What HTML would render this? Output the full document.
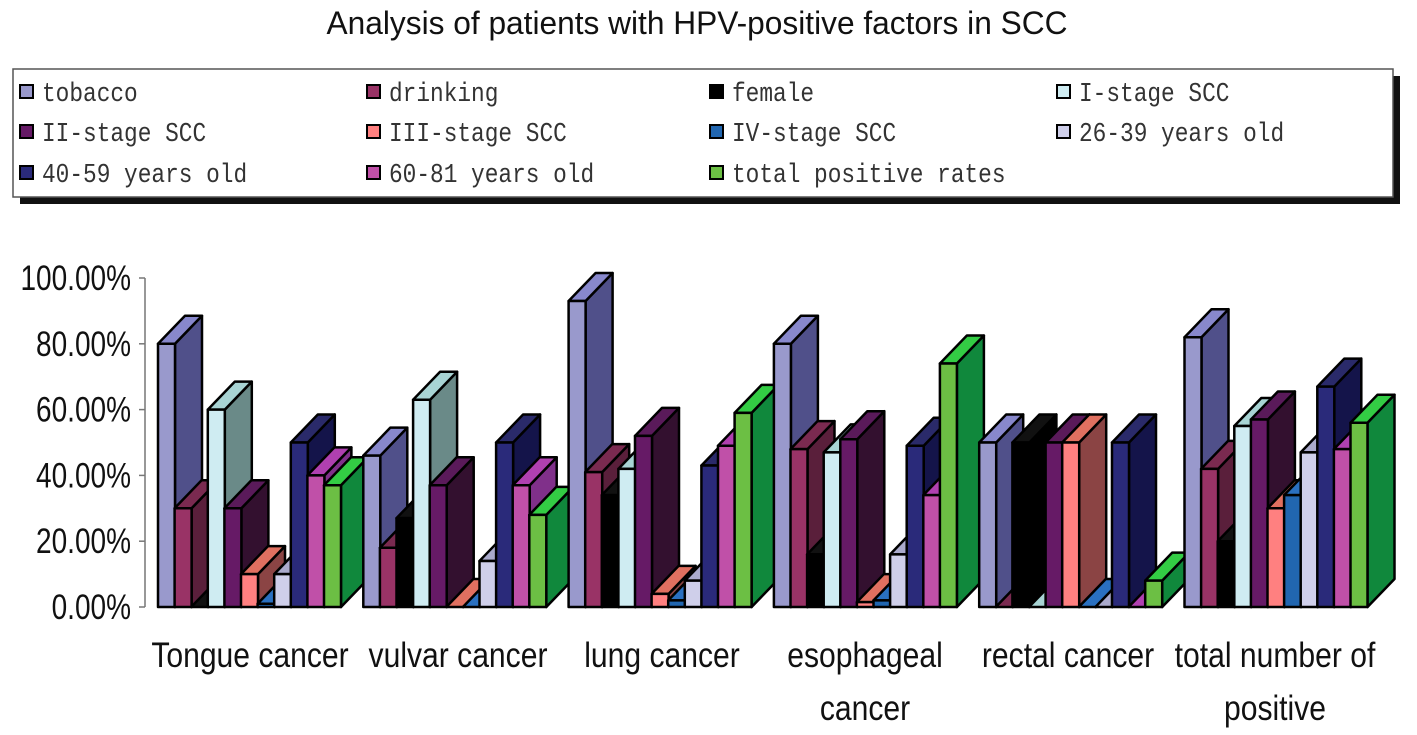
<!DOCTYPE html>
<html><head><meta charset="utf-8"><style>
body{margin:0;background:#fff;}
svg{display:block;}
</style></head><body>
<svg id="chart" width="1417" height="735" viewBox="0 0 1417 735" xmlns="http://www.w3.org/2000/svg">
<text x="0" y="0" text-anchor="middle" font-family="Liberation Sans, sans-serif" font-size="32" fill="#111" transform="translate(697,34) scale(0.99,1)">Analysis of patients with HPV-positive factors in SCC</text>
<rect x="20" y="76" width="1380" height="128" fill="#111"/>
<rect x="13" y="69" width="1380" height="128" fill="#fff" stroke="#555" stroke-width="1.5"/>
<g id="legend"></g>
<g id="axis"></g>
<g id="bars"></g>
<g id="cats"></g>
</svg>
<script>
const categories=[["Tongue cancer"],["vulvar cancer"],["lung cancer"],["esophageal","cancer"],["rectal cancer"],["total number of","positive"]];
const seriesNames=["tobacco","drinking","female","I-stage SCC","II-stage SCC","III-stage SCC","IV-stage SCC","26-39 years old","40-59 years old","60-81 years old","total positive rates"];
const tobacco=[80,46,93,80,50,82];
const drinking=[30,18,41,48,0,42];
const female=[0,27,34,16,50,20];
const stage1=[60,63,42,47,0,55];
const stage2=[30,37,52,51,50,57];
const stage3=[10,0,4,1.5,50,30];
const stage4=[1,0,2,2,0,34];
const age26=[10,14,8,16,0,47];
const age40=[50,50,43,49,50,67];
const age60=[40,37,49,34,0,48];
const totalRates=[37,28,59,74,8,56];
const yTicks=["0.00%","20.00%","40.00%","60.00%","80.00%","100.00%"];
const series=[tobacco,drinking,female,stage1,stage2,stage3,stage4,age26,age40,age60,totalRates];
const fronts=["#9999cc","#993366","#000000","#cfecf2","#661a66","#ff8080","#2166b0","#cfcfea","#2a2a7a","#c050a8","#6cbf44"];
const sides=["#50508a","#5a1f3b","#000000","#6a8a88","#33102f","#8b4444","#14406e","#8080a8","#14144a","#80308a","#10883c"];
const tops=["#8888cc","#7a2a50","#111111","#a8d4d4","#5a1a5a","#e07060","#2a70c0","#aaaacc","#2a2a6a","#b040b0","#33cc44"];
const NS="http://www.w3.org/2000/svg";
const y0=607,yTop=278;
function yS(v){return y0-(v/100)*(y0-yTop);}
function xS(g,s){return 158+g*205.3+s*16.6;}
function mk(tag,attrs,parent){const e=document.createElementNS(NS,tag);for(const k in attrs)e.setAttribute(k,attrs[k]);parent.appendChild(e);return e;}
const lg=document.getElementById('legend');
const lcols=[20,367,710,1057],lrows=[85,125,166];
seriesNames.forEach((n,i)=>{
  const cx=lcols[i%4],cy=lrows[Math.floor(i/4)];
  const r=mk('rect',{x:cx,y:cy,width:13,height:13,fill:fronts[i],stroke:'#000','stroke-width':2},lg);
  
  
  const t=mk('text',{x:0,y:0,'font-family':'Liberation Mono, monospace','font-size':24,fill:'#333',transform:`translate(${cx+22},${cy+16}) scale(0.95,1.1)`},lg);
  t.textContent=n;
  
  
});
const ax=document.getElementById('axis');
mk('line',{x1:145,y1:yTop,x2:145,y2:y0,stroke:'#777','stroke-width':1.5},ax);
yTicks.forEach((lab,i)=>{
  const v=i*20,y=yS(v);
  mk('line',{x1:139,y1:y,x2:145,y2:y,stroke:'#777','stroke-width':1.5},ax);
  const t=mk('text',{x:0,y:0,'text-anchor':'end','font-family':'Liberation Sans, sans-serif','font-size':35,fill:'#111',transform:`translate(131,${y+12}) scale(0.8,1)`},ax);
  t.textContent=lab;
  
  
});
const bg=document.getElementById('bars');
const W=17,DX=27,DY=28;
for(let g=0;g<categories.length;g++){
  for(let s=0;s<series.length;s++){
    const v=series[s][g];
    const x=xS(g,s),y=yS(v);
    const grp=mk('g',{},bg);
    
    
    const st={stroke:'#000','stroke-width':2.5,'stroke-linejoin':'round'};
    mk('polygon',Object.assign({points:`${x+W},${y} ${x+W+DX},${y-DY} ${x+W+DX},${y0-DY} ${x+W},${y0}`,fill:sides[s]},st),grp);
    mk('polygon',Object.assign({points:`${x},${y} ${x+DX},${y-DY} ${x+W+DX},${y-DY} ${x+W},${y}`,fill:tops[s]},st),grp);
    mk('rect',Object.assign({x:x,y:y,width:W,height:y0-y,fill:fronts[s]},st),grp);
  }
}
const cg=document.getElementById('cats');
const centers=[250,458,662,865,1068,1275];
categories.forEach((lines,i)=>{
  lines.forEach((ln,j)=>{
    const t=mk('text',{x:0,y:0,'text-anchor':'middle','font-family':'Liberation Sans, sans-serif','font-size':35,fill:'#111',transform:`translate(${centers[i]},${667+j*53}) scale(0.86,1)`},cg);
    t.textContent=ln;
    
    
  });
});
</script>
</body></html>
